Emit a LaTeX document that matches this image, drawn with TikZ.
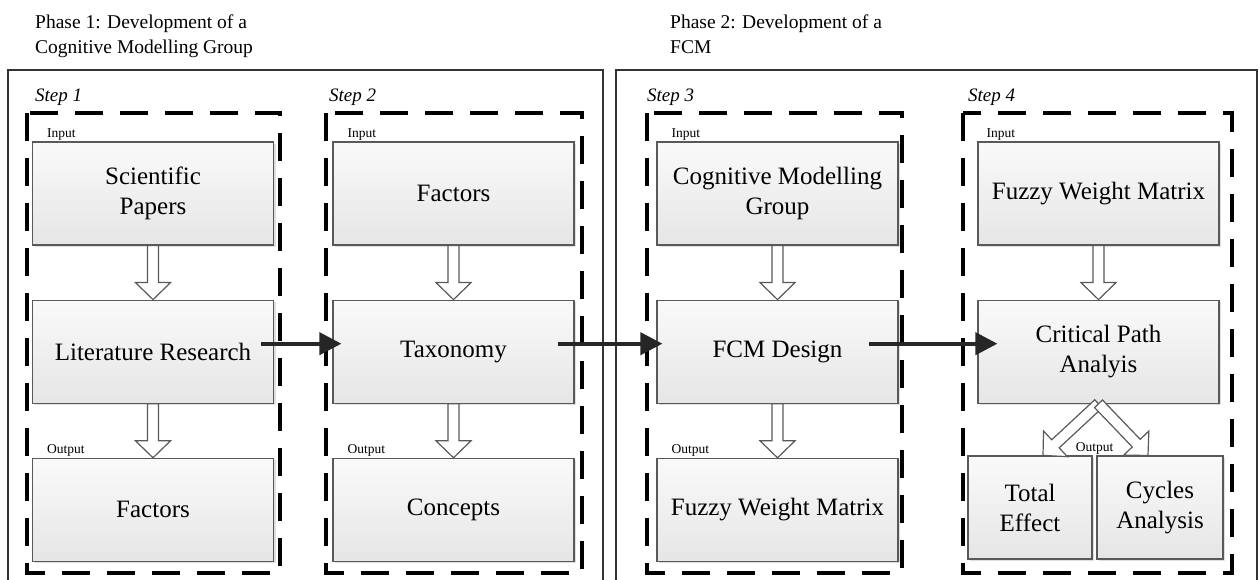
\documentclass[tikz,border=0pt]{standalone}
\usepackage{fontspec}
\setmainfont{Liberation Serif}
\usetikzlibrary{arrows.meta, calc, positioning, shadows}

% hollow block arrow from #1 to #2
\newcommand{\hollowarrow}[2]{%
	\coordinate (hb) at ($(#2)!17pt!(#1)$);
	\draw [hollow] ($(#1)!5.5pt!90:(#2)$) -- ($(hb)!5.5pt!90:(#2)$) -- ($(hb)!17.5pt!90:(#2)$)
		-- (#2) -- ($(hb)!17.5pt!-90:(#2)$) -- ($(hb)!5.5pt!-90:(#2)$) -- ($(#1)!5.5pt!-90:(#2)$) -- cycle;
}

\begin{document}
\begin{tikzpicture}
	[
		x=1pt, y=-1pt,
		node distance=54pt,
		box/.style={
				rectangle,
				minimum width=241pt,
				minimum height=103pt,
				align=center,
				line width=1.2pt,
				draw=black!65,
				top color=black!2,
				bottom color=black!10,
				drop shadow={opacity=0.25, shadow xshift=2pt, shadow yshift=-2pt},
				font=\fontsize{25}{30}\selectfont,
			},
		phase/.style={
				line width=2.5pt,
				draw=black!80,
			},
		stepframe/.style={
				line width=3.5pt,
				dash pattern=on 28pt off 17pt,
				draw=black,
			},
		title/.style={
				anchor=north west,
				align=left,
				inner sep=0pt,
				font=\fontsize{19.5}{25}\selectfont,
			},
		steplabel/.style={
				anchor=west,
				inner sep=0pt,
				font=\fontsize{19}{22}\selectfont\itshape,
			},
		tag/.style={
				anchor=south west,
				inner sep=1pt,
				font=\fontsize{13.5}{15}\selectfont,
			},
		hollow/.style={
				line width=1.2pt,
				draw=black!65,
				fill=white,
			},
		flow/.style={
				line width=4pt,
				draw=black!85,
				-{Triangle[length=22pt,width=22pt]},
			},
	]
	\useasboundingbox (0,0) rectangle (1259,580);

	% phases
	\draw [phase] (8,70) rectangle (603,600);
	\draw [phase] (616,70) rectangle (1257,600);
	\node [title] (ph1) at (35,15) {Phase 1: Development of a\\Cognitive Modelling Group};
	\node [title] (ph2) at (670,15) {Phase 2: Development of a\\FCM};

	% steps
	\draw [stepframe] (27,113) rectangle (280,573);
	\draw [stepframe] (326,113) rectangle (582,573);
	\draw [stepframe] (647,113) rectangle (902,573);
	\draw [stepframe] (963,113) rectangle (1232,573);
	\node [steplabel] (st1) at (35,97) {Step 1};
	\node [steplabel] (st2) at (329,97) {Step 2};
	\node [steplabel] (st3) at (647,97) {Step 3};
	\node [steplabel] (st4) at (968,97) {Step 4};

	% step 1
	\node [box] (sp) at (153,193.5) {Scientific\\Papers};
	\node [box, below=of sp] (lit) {Literature Research};
	\node [box, below=of lit] (fac) {Factors};
	% step 2
	\node [box] (fin) at (453.5,193.5) {Factors};
	\node [box, below=of fin] (tax) {Taxonomy};
	\node [box, below=of tax] (con) {Concepts};
	% step 3
	\node [box] (cmg) at (777.5,193.5) {Cognitive Modelling\\Group};
	\node [box, below=of cmg] (fcm) {FCM Design};
	\node [box, below=of fcm] (fwm) {Fuzzy Weight Matrix};
	% step 4
	\node [box] (fwi) at (1098.5,193.5) {Fuzzy Weight Matrix};
	\node [box, below=of fwi] (cpa) {Critical Path\\Analyis};
	\node [box, minimum width=124pt] (te) at (1030,507.5) {Total\\Effect};
	\node [box, minimum width=126pt] (ca) at (1160,507.5) {Cycles\\Analysis};

	% input / output tags
	\node [tag] (in1) at ([xshift=14pt]sp.north west) {Input};
	\node [tag] (in2) at ([xshift=14pt]fin.north west) {Input};
	\node [tag] (in3) at ([xshift=14pt]cmg.north west) {Input};
	\node [tag] (in4) at ([xshift=8pt]fwi.north west) {Input};
	\node [tag] (out1) at ([xshift=14pt]fac.north west) {Output};
	\node [tag] (out2) at ([xshift=14pt]con.north west) {Output};
	\node [tag] (out3) at ([xshift=14pt]fwm.north west) {Output};
	\node [tag, anchor=south] (out4) at ($(te.north east)!0.5!(ca.north west)$) {Output};

	% hollow arrows
	\hollowarrow{sp.south}{lit.north}
	\hollowarrow{lit.south}{fac.north}
	\hollowarrow{fin.south}{tax.north}
	\hollowarrow{tax.south}{con.north}
	\hollowarrow{cmg.south}{fcm.north}
	\hollowarrow{fcm.south}{fwm.north}
	\hollowarrow{fwi.south}{cpa.north}
	\coordinate (teIn) at ($(te.north)+(13pt,0)$);
	\coordinate (caIn) at ($(ca.north)+(-12pt,0)$);
	\hollowarrow{cpa.south}{teIn}
	\hollowarrow{cpa.south}{caIn}

	% step to step
	\draw [flow, shorten <=-13pt, shorten >=-9pt] ([yshift=8pt]lit.east) -- ([yshift=8pt]tax.west);
	\draw [flow, shorten <=-17pt, shorten >=-6pt] ([yshift=8pt]tax.east) -- ([yshift=8pt]fcm.west);
	\draw [flow, shorten <=-30pt, shorten >=-20pt] ([yshift=8pt]fcm.east) -- ([yshift=8pt]cpa.west);
\end{tikzpicture}
\end{document}
